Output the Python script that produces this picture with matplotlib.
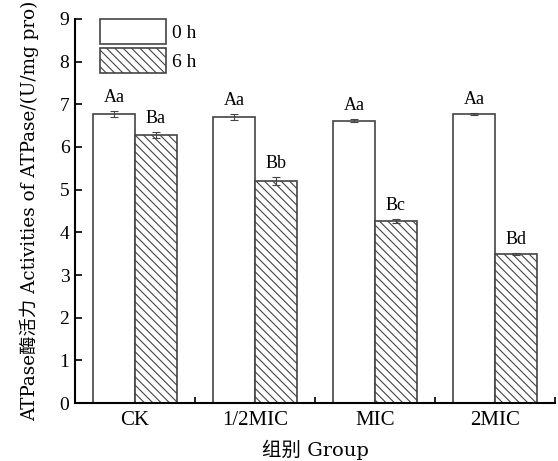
import numpy as np
import matplotlib
matplotlib.use('Agg')
import matplotlib.pyplot as plt

plt.rcParams['font.family'] = ['Liberation Serif', 'Noto Sans CJK SC']
plt.rcParams['hatch.linewidth'] = 0.8
plt.rcParams['hatch.color'] = '#555555'

groups = ['CK', '1/2MIC', 'MIC', '2MIC']
vals_0h = [6.77, 6.70, 6.62, 6.77]
vals_6h = [6.28, 5.20, 4.27, 3.49]
err_0h = [0.07, 0.07, 0.03, 0.02]
err_6h = [0.06, 0.09, 0.05, 0.03]
lab_0h = ['Aa', 'Aa', 'Aa', 'Aa']
lab_6h = ['Ba', 'Bb', 'Bc', 'Bd']

fig = plt.figure(figsize=(5.58, 4.61), dpi=100)
ax = fig.add_axes([0.1344, 0.1258, 0.8602, 0.833])

x = np.arange(len(groups))
w = 0.35
ax.bar(x - w / 2, vals_0h, w, color='white', edgecolor='#444444', linewidth=1.2, label='0 h')
ax.bar(x + w / 2, vals_6h, w, color='white', edgecolor='#444444', linewidth=1.2,
       hatch='\\\\\\\\', label='6 h')
ax.errorbar(x - w / 2, vals_0h, yerr=err_0h, fmt='none', ecolor='#444444', elinewidth=0.8, capsize=3, capthick=0.8)
ax.errorbar(x + w / 2, vals_6h, yerr=err_6h, fmt='none', ecolor='#444444', elinewidth=0.8, capsize=3, capthick=0.8)

for i in range(len(groups)):
    ax.text(x[i] - w / 2, vals_0h[i] + err_0h[i] + 0.12, lab_0h[i], ha='center', va='bottom', fontsize=13)
    ax.text(x[i] + w / 2, vals_6h[i] + err_6h[i] + 0.12, lab_6h[i], ha='center', va='bottom', fontsize=13)

ax.set_xlim(-0.5, 3.5)
ax.set_ylim(0, 9)
ax.set_yticks(range(0, 10))
ax.set_xticks(x)
ax.set_xticklabels(groups, fontsize=15)
ax.set_xticks([0.5, 1.5, 2.5, 3.5], minor=True)
ax.tick_params(axis='x', which='major', length=0, pad=6)
ax.tick_params(axis='x', which='minor', direction='in', length=4, width=1.2)
ax.tick_params(axis='y', direction='in', length=5, width=1.2, labelsize=14, pad=4)

for s in ['top', 'right']:
    ax.spines[s].set_visible(False)
for s in ['left', 'bottom']:
    ax.spines[s].set_linewidth(1.5)

lab_font = ['DejaVu Serif', 'Noto Sans CJK SC']
ax.set_xlabel('组别 Group', fontsize=14, labelpad=7, family=lab_font)
ax.set_ylabel('ATPase酶活力 Activities of ATPase/(U/mg pro)', fontsize=13.2, labelpad=15, family=lab_font)

ax.legend(loc='upper left', bbox_to_anchor=(0.035, 1.02), frameon=False, fontsize=14,
          handlelength=3.4, handleheight=1.6, handletextpad=0.3, labelspacing=0.2, borderaxespad=0)

fig.savefig('out.png', dpi=100)
